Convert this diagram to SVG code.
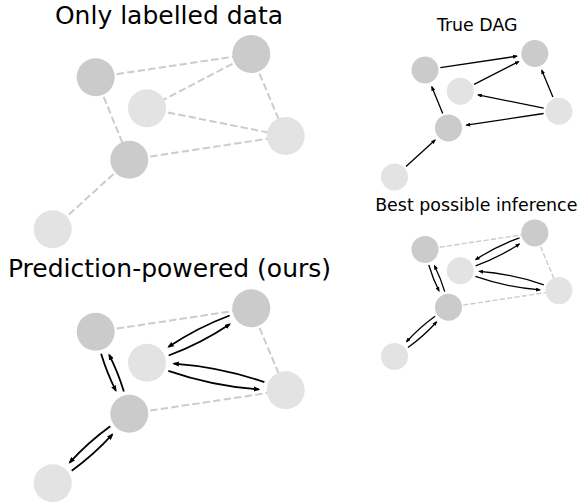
<svg xmlns="http://www.w3.org/2000/svg" width="582" height="504" viewBox="0 0 582 504">
<style>
.title{font-family:"DejaVu Sans",sans-serif;fill:#000;text-anchor:middle}
.big{font-size:25px}
.small{font-size:17.4px}
.dk{fill:#cbcbcb}
.lt{fill:#e3e3e3}
.dashL{stroke:#cccccc;stroke-width:2;stroke-dasharray:7.4 3.2;fill:none}
.dashR{stroke:#cccccc;stroke-width:1.4;stroke-dasharray:5.2 2.2;fill:none}
.arL{stroke:#000;stroke-width:1.8;fill:none;marker-end:url(#headL)}
.arR{stroke:#000;stroke-width:1.3;fill:none;marker-end:url(#headR)}
</style>
<defs>
<marker id="headL" markerUnits="userSpaceOnUse" markerWidth="6.5" markerHeight="5.2" viewBox="0 0 6.5 5.2" refX="5" refY="2.6" orient="auto"><path d="M0,0 L6.5,2.6 L0,5.2 z" fill="#000"/></marker>
<marker id="headR" markerUnits="userSpaceOnUse" markerWidth="5" markerHeight="4" viewBox="0 0 5 4" refX="3.9" refY="2" orient="auto"><path d="M0,0 L5,2 L0,4 z" fill="#000"/></marker>
</defs>

<text class="title big" x="169" y="23.5">Only labelled data</text>
<text class="title big" x="169.5" y="277">Prediction-powered (ours)</text>
<text class="title small" x="477.2" y="31.3">True DAG</text>
<text class="title small" x="476.3" y="210.7">Best possible inference</text>

<g id="connectors">
 <g id="edges-labelled">
  <line class="dashL" x1="95.7" y1="77.3" x2="251.3" y2="54"/>
  <line class="dashL" x1="251.3" y1="54" x2="147" y2="108.3"/>
  <line class="dashL" x1="147" y1="108.3" x2="285.7" y2="136"/>
  <line class="dashL" x1="251.3" y1="54" x2="285.7" y2="136"/>
  <line class="dashL" x1="95.7" y1="77.3" x2="129.3" y2="159.7"/>
  <line class="dashL" x1="129.3" y1="159.7" x2="285.7" y2="136"/>
  <line class="dashL" x1="129.3" y1="159.7" x2="52.7" y2="229.3"/>
 </g>
 <g id="edges-ppi">
  <line class="dashL" x1="95.7" y1="331.7" x2="251.3" y2="308.3"/>
  <line class="dashL" x1="251.3" y1="308.3" x2="285.7" y2="390.3"/>
  <line class="dashL" x1="129.3" y1="413.7" x2="285.7" y2="390.3"/>
  <path class="arL" d="M101.12,353.79 Q106.83,372.86 115.82,390.59"/>
  <path class="arL" d="M123.88,391.61 Q118.17,372.54 109.18,354.81"/>
  <path class="arL" d="M229.67,315.48 Q197.28,327.59 168.6,346.8"/>
  <path class="arL" d="M168.63,355.52 Q201.02,343.41 229.7,324.2"/>
  <path class="arL" d="M168.33,370.8 Q212.42,386 258.87,389.35"/>
  <path class="arL" d="M264.37,382.2 Q220.28,367 173.83,363.65"/>
  <path class="arL" d="M110.28,426.22 Q88.04,442.27 69.66,462.56"/>
  <path class="arL" d="M71.72,470.78 Q93.96,454.73 112.34,434.44"/>
 </g>
 <g id="edges-true">
  <line class="arR" x1="440.3" y1="67.7" x2="516.9" y2="56.19"/>
  <line class="arR" x1="474.1" y1="84.3" x2="518.65" y2="61.69"/>
  <line class="arR" x1="552.9" y1="96.9" x2="541.77" y2="70.21"/>
  <line class="arR" x1="543.7" y1="108.1" x2="478.04" y2="94.88"/>
  <line class="arR" x1="543.6" y1="113.5" x2="466.4" y2="125.19"/>
  <line class="arR" x1="442.7" y1="113.5" x2="431.81" y2="86.77"/>
  <line class="arR" x1="406" y1="166.6" x2="435.11" y2="140.08"/>
 </g>
 <g id="edges-best">
  <line class="dashR" x1="425" y1="249.4" x2="534.8" y2="232.9"/>
  <line class="dashR" x1="534.8" y1="232.9" x2="558.9" y2="290.6"/>
  <line class="dashR" x1="448.5" y1="307.3" x2="558.9" y2="290.6"/>
  <path class="arR" d="M428.78,265.02 Q432.76,278.46 439.04,290.96"/>
  <path class="arR" d="M444.72,291.68 Q440.74,278.24 434.46,265.74"/>
  <path class="arR" d="M519.46,237.8 Q496.26,246.17 475.66,259.65"/>
  <path class="arR" d="M475.65,265.8 Q498.84,257.43 519.44,243.95"/>
  <path class="arR" d="M475.36,276.47 Q506.81,287.42 539.97,289.89"/>
  <path class="arR" d="M543.84,284.83 Q512.39,273.88 479.23,271.41"/>
  <path class="arR" d="M435.06,316.16 Q419.41,327.47 406.47,341.76"/>
  <path class="arR" d="M407.94,347.54 Q423.59,336.24 436.54,321.94"/>
 </g>
</g>

<g id="nodes-labelled">
 <g id="lab-A"><circle class="dk" cx="95.7" cy="77.3" r="19"/></g>
 <g id="lab-B"><circle class="dk" cx="251.3" cy="54" r="19"/></g>
 <g id="lab-C"><circle class="lt" cx="147" cy="108.3" r="19"/></g>
 <g id="lab-D"><circle class="lt" cx="285.7" cy="136" r="19"/></g>
 <g id="lab-E"><circle class="dk" cx="129.3" cy="159.7" r="19"/></g>
 <g id="lab-F"><circle class="lt" cx="52.7" cy="229.3" r="19"/></g>
</g>
<g id="nodes-ppi">
 <g id="ppi-A"><circle class="dk" cx="95.7" cy="331.7" r="19"/></g>
 <g id="ppi-B"><circle class="dk" cx="251.3" cy="308.3" r="19"/></g>
 <g id="ppi-C"><circle class="lt" cx="147" cy="362.7" r="19"/></g>
 <g id="ppi-D"><circle class="lt" cx="285.7" cy="390.3" r="19"/></g>
 <g id="ppi-E"><circle class="dk" cx="129.3" cy="413.7" r="19"/></g>
 <g id="ppi-F"><circle class="lt" cx="52.7" cy="483.3" r="19"/></g>
</g>
<g id="nodes-true">
 <g id="true-A"><circle class="dk" cx="425" cy="70" r="13.5"/></g>
 <g id="true-B"><circle class="dk" cx="534.8" cy="53.5" r="13.5"/></g>
 <g id="true-C"><circle class="lt" cx="460.3" cy="91.3" r="13.5"/></g>
 <g id="true-D"><circle class="lt" cx="558.9" cy="111.2" r="13.5"/></g>
 <g id="true-E"><circle class="dk" cx="448.5" cy="127.9" r="13.5"/></g>
 <g id="true-F"><circle class="lt" cx="394.5" cy="177" r="13.5"/></g>
</g>
<g id="nodes-best">
 <g id="best-A"><circle class="dk" cx="425" cy="249.4" r="13.5"/></g>
 <g id="best-B"><circle class="dk" cx="534.8" cy="232.9" r="13.5"/></g>
 <g id="best-C"><circle class="lt" cx="460.3" cy="270.7" r="13.5"/></g>
 <g id="best-D"><circle class="lt" cx="558.9" cy="290.6" r="13.5"/></g>
 <g id="best-E"><circle class="dk" cx="448.5" cy="307.3" r="13.5"/></g>
 <g id="best-F"><circle class="lt" cx="394.5" cy="356.4" r="13.5"/></g>
</g>
</svg>
